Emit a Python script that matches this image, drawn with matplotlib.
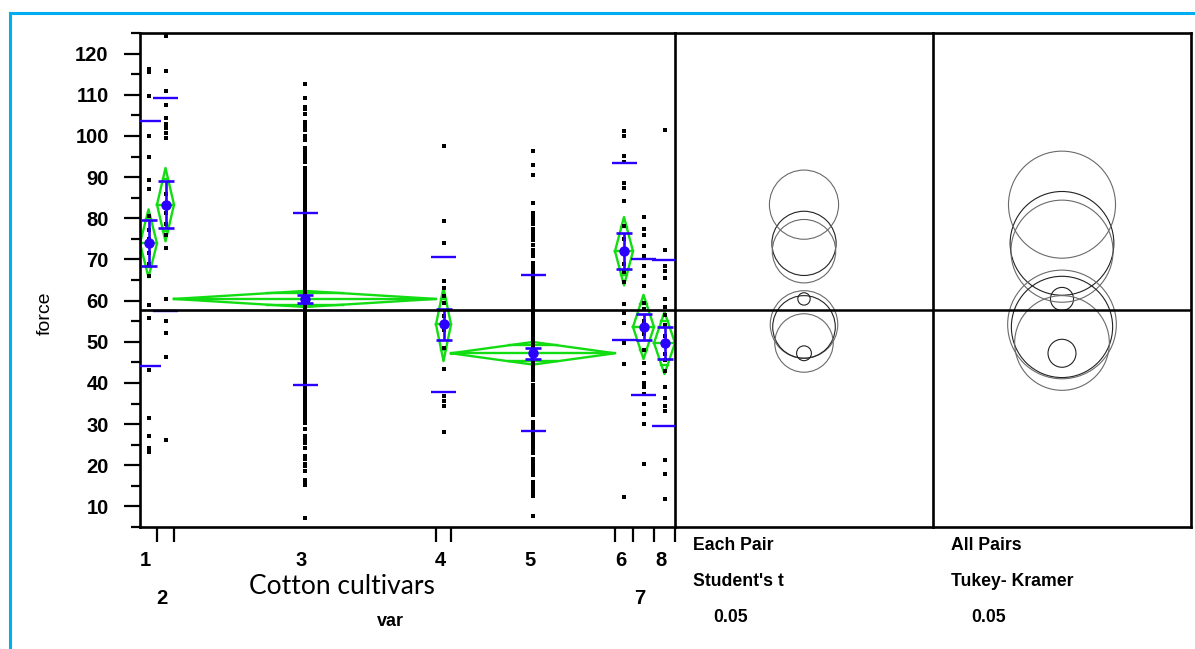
import numpy as np
import matplotlib
matplotlib.use('Agg')
import matplotlib.pyplot as plt
from matplotlib.patches import Circle
from matplotlib.lines import Line2D

W, H = 1195, 649

# Datos: grupos (cultivares), tamaños de muestra y estadísticos
groups = ['1', '2', '3', '4', '5', '6', '7', '8']
n_obs = [17, 17, 262, 15, 164, 18, 21, 21]
means = [73.9, 83.3, 60.4, 54.2, 47.2, 72.0, 53.6, 49.7]
std_dev = [29.7, 25.8, 20.9, 16.4, 18.9, 21.5, 16.5, 20.2]
std_err = [5.6, 5.75, 1.0, 3.8, 1.3, 4.4, 3.2, 3.8]
ci95 = [8.25, 8.9, 1.95, 8.9, 2.75, 8.3, 7.8, 7.55]
grand_mean = 57.6

# radios de los círculos de comparación (unidades de force)
r_student = [7.8, 8.4, 1.5, 8.2, 1.8, 7.7, 7.6, 7.1]
r_tukey = [12.6, 13.0, 2.8, 13.2, 3.4, 12.4, 12.3, 11.5]

# observaciones visibles por grupo
force_g1 = [116.3, 115.6, 109.6, 99.9, 95.0, 89.4, 87.0, 80.5, 77.2, 75.0, 71.5, 69.0,
            66.0, 59.0, 55.8, 43.2, 31.4, 27.2, 24.3, 23.1]
force_g2 = [124.2, 115.7, 110.8, 107.6, 104.4, 102.8, 102.0, 100.7, 99.5, 85.8, 82.9, 81.3,
            78.7, 76.0, 72.8, 60.3, 55.0, 52.2, 46.3, 26.1]
force_g3 = [112.6, 109.2, 107.0, 106.6, 105.4, 103.4, 102.8, 102.2, 101.5, 99.9, 98.9, 97.1,
            96.2, 95.6, 94.9, 94.2, 93.6, 92.3, 91.2, 90.6, 90.0, 89.3, 88.7, 88.0, 87.4,
            86.6, 86.0, 85.4, 84.9, 84.3, 83.7, 83.1, 82.6, 82.0, 81.4, 80.8, 80.2, 79.7,
            79.1, 78.5, 77.9, 77.4, 76.8, 76.2, 75.6, 75.1, 74.5, 73.9, 73.3, 72.8, 72.2,
            71.6, 71.0, 70.5, 69.9, 69.3, 68.7, 68.2, 67.6, 67.0, 66.4, 65.9, 65.3, 64.7,
            64.1, 63.6, 63.0, 62.4, 61.8, 61.3, 60.7, 60.1, 59.5, 59.0, 58.4, 57.8, 57.2,
            56.7, 56.1, 55.5, 54.9, 54.4, 53.8, 53.2, 52.6, 52.1, 51.5, 50.9, 50.3, 49.8,
            49.2, 48.6, 48.0, 47.5, 46.9, 46.3, 45.7, 44.8, 44.2, 43.6, 43.0, 42.5, 41.9,
            41.3, 40.7, 40.2, 39.6, 39.0, 38.4, 37.9, 37.3, 36.7, 36.1, 35.2, 34.6, 34.0,
            33.4, 32.7, 32.1, 31.5, 30.9, 30.3, 28.7, 27.1, 26.5, 25.9, 25.3, 24.3, 22.3,
            21.6, 20.3, 19.7, 18.7, 16.3, 15.6, 15.1, 7.3]
force_g4 = [97.5, 79.3, 74.0, 64.7, 63.1, 61.1, 59.5, 56.2, 52.9, 48.5, 43.3, 36.8, 35.6,
            34.4, 28.0]
force_g5 = [96.3, 93.0, 90.5, 83.7, 81.3, 80.3, 79.7, 79.1, 78.5, 77.3, 76.7, 76.0, 75.4,
            74.8, 73.6, 72.4, 71.8, 71.2, 70.8, 69.2, 68.6, 68.0, 67.5, 66.7, 66.1, 65.4,
            64.8, 64.2, 63.5, 62.7, 62.1, 61.5, 60.9, 60.4, 59.8, 59.2, 58.6, 58.1, 57.5,
            56.9, 56.3, 55.8, 55.2, 54.6, 54.0, 53.5, 52.9, 52.3, 51.7, 51.2, 50.6, 50.0,
            49.4, 48.9, 48.3, 47.7, 47.1, 46.6, 46.0, 45.4, 44.8, 44.3, 43.7, 43.1, 42.5,
            42.0, 41.4, 40.8, 39.6, 39.0, 38.4, 37.8, 37.3, 36.7, 36.1, 35.5, 35.0, 34.4,
            33.8, 33.2, 32.7, 32.1, 30.5, 29.9, 29.3, 28.8, 28.2, 27.6, 27.0, 26.5, 25.9,
            25.3, 24.7, 24.2, 23.6, 23.0, 21.6, 21.0, 20.4, 19.9, 19.3, 18.7, 18.1, 17.6,
            16.0, 15.4, 14.8, 14.3, 13.7, 13.1, 12.5, 7.6]
force_g6 = [101.1, 99.9, 95.1, 93.6, 88.6, 87.4, 84.3, 78.1, 75.0, 69.0, 67.0, 64.4, 59.1,
            57.0, 54.6, 49.7, 44.5, 12.4]
force_g7 = [80.3, 77.4, 76.0, 73.2, 70.9, 68.3, 65.9, 63.5, 59.5, 58.0, 55.0, 52.0, 48.1,
            44.9, 42.5, 40.0, 38.9, 37.2, 35.0, 32.5, 29.9, 20.4]
force_g8 = [101.5, 72.4, 68.5, 67.1, 65.5, 60.3, 58.5, 56.5, 54.0, 51.5, 47.0, 45.5, 43.0,
            38.9, 36.4, 34.4, 33.1, 21.2, 17.9, 11.7]
force = [force_g1, force_g2, force_g3, force_g4, force_g5, force_g6, force_g7, force_g8]

blue = '#2a00ff'
green = '#12dc12'
bold_font = ['Liberation Sans', 'DejaVu Sans']


def px_box(x0, x1, y0, y1):
    return [x0 / W, 1 - y1 / H, (x1 - x0) / W, (y1 - y0) / H]


fig = plt.figure(figsize=(W / 100, H / 100), dpi=100)

# Círculos de comparación (se dibujan primero, sin fondo)
panels = [(675, 933, r_student, ['Each Pair', "Student's t", '0.05']),
          (933, 1191, r_tukey, ['All Pairs', 'Tukey- Kramer', '0.05'])]
for x0, x1, radii, labels in panels:
    pax = fig.add_axes(px_box(x0, x1, 33, 527))
    pax.patch.set_visible(False)
    pax.set_ylim(5, 125)
    xr = 120 * (x1 - x0) / 494
    pax.set_xlim(-xr / 2, xr / 2)
    pax.set_xticks([])
    pax.set_yticks([])
    pax.spines['left'].set_visible(False)
    for s in ['top', 'bottom', 'right']:
        pax.spines[s].set_linewidth(1.9)
    pax.axhline(grand_mean, color='black', lw=1.8)
    for i in range(len(groups)):
        col = '#222222' if i % 2 == 0 else '#6a6a6a'
        pax.add_patch(Circle((0, means[i]), radii[i], fill=False, ec=col, lw=0.8))
    fig.text((x0 + 18) / W, 1 - 546 / H, labels[0], ha='left', va='center',
             fontsize=12.7, fontweight='bold', family=bold_font)
    fig.text((x0 + 18) / W, 1 - 582 / H, labels[1], ha='left', va='center',
             fontsize=12.7, fontweight='bold', family=bold_font)
    fig.text((x0 + 38) / W, 1 - 618 / H, labels[2], ha='left', va='center',
             fontsize=12.7, fontweight='bold', family=bold_font)

# Panel principal (eje x proporcional al tamaño de muestra)
ax = fig.add_axes(px_box(140, 675, 33, 527))
ax.patch.set_visible(False)
edges = np.concatenate([[0], np.cumsum(n_obs)])
centers = (edges[:-1] + edges[1:]) / 2
ax.set_xlim(edges[0], edges[-1])
ax.set_ylim(5, 125)

for i in range(len(groups)):
    c, m, ci = centers[i], means[i], ci95[i]
    x0, x1 = edges[i], edges[i + 1]
    # diamante de la media
    ax.plot([x0, c, x1, c, x0], [m, m + ci, m, m - ci, m], color=green, lw=1.7, zorder=2)
    ax.plot([x0, x1], [m, m], color=green, lw=1.7, zorder=2)
    k = (x1 - x0) / 2 * (1 - 1 / np.sqrt(2))
    for s in (1, -1):
        ax.plot([c - k, c + k], [m + s * ci / np.sqrt(2)] * 2, color=green, lw=1.7, zorder=2)
    # puntos
    ax.plot(np.full(len(force[i]), c), force[i], 's', ms=2.2, mew=0, color='black', zorder=3)
    # desviación estándar
    ax.hlines([m + std_dev[i], m - std_dev[i]], c - 12.5, c + 12.5, color=blue, lw=1.7, zorder=4)
    # media y error estándar
    ax.errorbar(c, m, yerr=std_err[i], fmt='o', ms=6.5, color=blue, ecolor=blue,
                elinewidth=1.9, capsize=6, capthick=1.9, zorder=4)

ax.axhline(grand_mean, color='black', lw=1.9, zorder=5)

for s in ax.spines.values():
    s.set_linewidth(1.9)
ax.set_yticks(range(10, 121, 10))
ax.set_yticks(range(5, 126, 10), minor=True)
ax.tick_params(axis='y', which='major', length=11.5, width=1.6, pad=11,
               labelsize=14.5)
ax.tick_params(axis='y', which='minor', length=6.2, width=1.6)
for lab in ax.get_yticklabels():
    lab.set_fontweight('bold')
    lab.set_family(bold_font)
ax.set_xticks(edges[1:])
ax.set_xticklabels([])
ax.tick_params(axis='x', length=11, width=1.6)

stagger = [0, 1, 0, 0, 0, 0, 1, 0]
for i, g in enumerate(groups):
    ax.annotate(g, xy=(centers[i], 0), xycoords=('data', 'axes fraction'),
                xytext=(-2.5, -24 - 27.5 * stagger[i]), textcoords='offset points',
                ha='center', va='center', fontsize=14.5, fontweight='bold',
                family=bold_font)

# Etiquetas
fig.text(45 / W, 1 - 313 / H, 'force', rotation=90, ha='center', va='center',
         fontsize=14, family=['Liberation Sans', 'DejaVu Sans'])
fig.text(342 / W, 1 - 587 / H, 'Cotton cultivars', ha='center', va='center',
         fontsize=19, family=['Lato', 'DejaVu Sans'])
fig.text(390 / W, 1 - 622 / H, 'var', ha='center', va='center', fontsize=13,
         fontweight='bold', family=bold_font)

# Marco azul
fig.add_artist(Line2D([9.5 / W, 9.5 / W], [0, 1 - 13 / H], color='#00aeef', lw=2.2))
fig.add_artist(Line2D([9.5 / W, 1], [1 - 13 / H, 1 - 13 / H], color='#00aeef', lw=2.2))

fig.savefig('out.png', dpi=100)
